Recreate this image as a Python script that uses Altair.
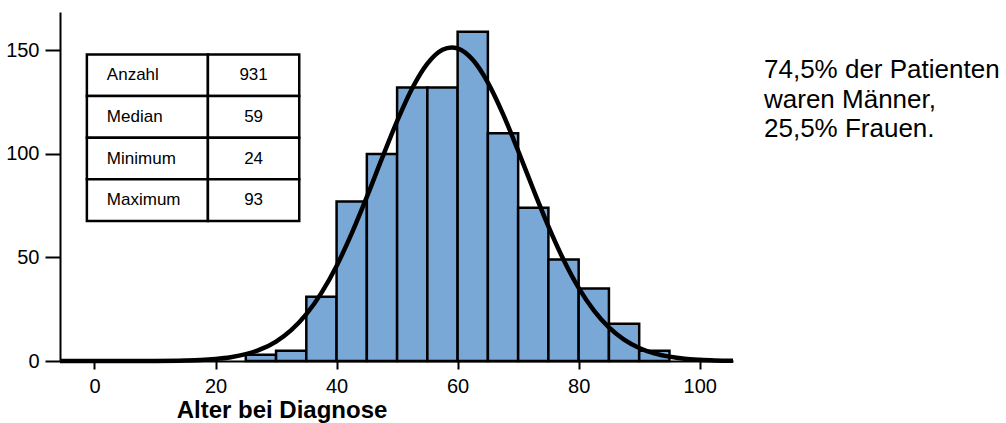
import altair as alt
import pandas as pd

# ---- data ----
bin_start = [25, 30, 35, 40, 45, 50, 55, 60, 65, 70, 75, 80, 85, 90]
counts = [3, 5, 31, 77, 100, 132, 132, 159, 110, 74, 49, 35, 18, 5]
BIN_W = 5

curve_x = [-5.7, 0, 5, 10, 15, 17.5, 20, 22.5, 25, 27.5, 30, 32.5, 35, 37.5, 40,
           42.5, 45, 47.5, 50, 52.5, 55, 57.5, 59, 60, 62.5, 65, 67.5, 70, 72.5,
           75, 77.5, 80, 82.5, 85, 87.5, 90, 92.5, 95, 97.5, 100, 102.5, 105.5]
curve_y = [0, 0, 0.01, 0.05, 0.25, 0.5, 1.0, 1.85, 3.3, 5.7, 9.4, 14.9, 22.6, 32.9, 45.9,
           61.6, 79.2, 97.8, 115.8, 131.7, 143.6, 150.3, 151.4, 150.9, 145.4, 134.4,
           119.2, 101.5, 82.9, 65.0, 48.9, 35.3, 24.4, 16.2, 10.3, 6.3, 3.7, 2.1,
           1.1, 0.6, 0.3, 0.1]

stat_labels = ["Anzahl", "Median", "Minimum", "Maximum"]
stat_values = ["931", "59", "24", "93"]

note_lines = ["74,5% der Patienten", "waren Männer,", "25,5% Frauen."]

x_ticks = [0, 20, 40, 60, 80, 100]
y_ticks = [0, 50, 100, 150]

# ---- layout constants ----
X_DOMAIN = [-5.7, 105.5]
Y_DOMAIN = [0, 168.5]
TBL_COLS = [-1.26, 18.74, 33.83]
TBL_TOP = 148.0
ROW_H = 20.1
FONT = "Liberation Sans"

bars = pd.DataFrame({
    "start": bin_start,
    "end": [b + BIN_W for b in bin_start],
    "count": counts,
})
curve = pd.DataFrame({"x": curve_x, "y": curve_y})

cells = []
texts = []
for i, (lab, val) in enumerate(zip(stat_labels, stat_values)):
    top = TBL_TOP - ROW_H * i
    bot = TBL_TOP - ROW_H * (i + 1)
    cells.append({"x": TBL_COLS[0], "x2": TBL_COLS[1], "y": top, "y2": bot})
    cells.append({"x": TBL_COLS[1], "x2": TBL_COLS[2], "y": top, "y2": bot})
    texts.append({"x": TBL_COLS[0] + 3.3, "y": (top + bot) / 2, "t": lab, "kind": "label"})
    texts.append({"x": (TBL_COLS[1] + TBL_COLS[2]) / 2, "y": (top + bot) / 2, "t": val, "kind": "value"})
cells = pd.DataFrame(cells)
texts = pd.DataFrame(texts)

xscale = alt.Scale(domain=X_DOMAIN, nice=False, zero=False)
yscale = alt.Scale(domain=Y_DOMAIN, nice=False)

xaxis = alt.Axis(values=x_ticks, title="Alter bei Diagnose", grid=False,
                 tickSize=8, labelPadding=7, titleX=221.5, titleY=56,
                 titleAlign="center", titleBaseline="alphabetic",
                 titleFontSize=24, titleFontWeight="bold")
yaxis = alt.Axis(values=y_ticks, title=None, grid=False, tickSize=15, labelPadding=6)

bar_layer = alt.Chart(bars).mark_rect(
    fill="#7AA8D6", stroke="black", strokeWidth=2.5
).encode(
    x=alt.X("start:Q", scale=xscale, axis=xaxis),
    x2="end:Q",
    y=alt.Y("count:Q", scale=yscale, axis=yaxis),
    y2=alt.datum(0),
)

curve_layer = alt.Chart(curve).mark_line(
    color="black", strokeWidth=4.5, interpolate="monotone"
).encode(
    x=alt.X("x:Q", scale=xscale),
    y=alt.Y("y:Q", scale=yscale),
)

cell_layer = alt.Chart(cells).mark_rect(
    fill="white", stroke="black", strokeWidth=2.5
).encode(
    x=alt.X("x:Q", scale=xscale),
    x2="x2:Q",
    y=alt.Y("y:Q", scale=yscale),
    y2="y2:Q",
)

label_layer = alt.Chart(texts).transform_filter(
    alt.datum.kind == "label"
).mark_text(align="left", baseline="middle", fontSize=17, font=FONT, color="black").encode(
    x=alt.X("x:Q", scale=xscale),
    y=alt.Y("y:Q", scale=yscale),
    text="t:N",
)

value_layer = alt.Chart(texts).transform_filter(
    alt.datum.kind == "value"
).mark_text(align="center", baseline="middle", fontSize=17, font=FONT, color="black").encode(
    x=alt.X("x:Q", scale=xscale),
    y=alt.Y("y:Q", scale=yscale),
    text="t:N",
)

note_layer = alt.Chart(pd.DataFrame({"k": [0]})).mark_text(
    align="left", baseline="alphabetic", fontSize=26, font=FONT, color="black",
    lineHeight=29.5
).encode(
    x=alt.value(704),
    y=alt.value(66),
    text=alt.value(note_lines),
)

chart = alt.layer(
    bar_layer, curve_layer, cell_layer, label_layer, value_layer, note_layer
).properties(
    width=673,
    height=349,
    autosize=alt.AutoSizeParams(type="none"),
    padding={"left": 60, "top": 12, "right": 273, "bottom": 62},
    background="white",
).configure_view(
    stroke=None
).configure_axis(
    domainColor="black", domainWidth=2, tickColor="black", tickWidth=2,
    labelFont=FONT, labelFontSize=20, labelColor="black",
    titleFont=FONT, titleColor="black",
)

chart.save("out.html", embed_options={"renderer": "svg", "actions": False})
